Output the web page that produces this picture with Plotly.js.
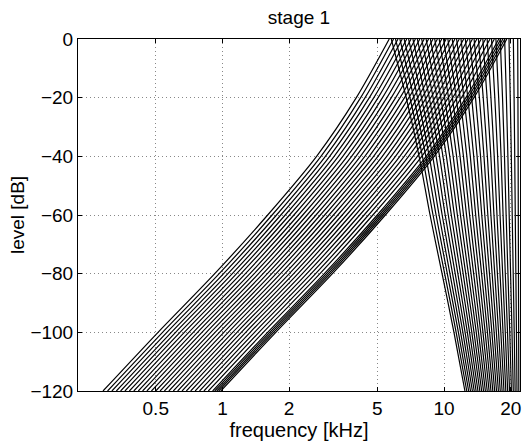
<!DOCTYPE html>
<html><head><meta charset="utf-8">
<script src="https://cdn.plot.ly/plotly-3.0.1.min.js"></script>
<style>html,body{margin:0;padding:0;background:#fff}</style>
</head><body><div id="chart" style="width:526px;height:441px"></div>
<script>
// Levels (dB) at which the curves were read
const riseLevels = [-120, -100, -80, -60, -40, -20, 0];
const fallLevels = [0, -20, -40, -60, -80, -100, -120];
// Lowest channel, rising (low-frequency) side, kHz at riseLevels
const riseFirstKHz = [0.289, 0.512, 0.923, 1.60, 2.66, 4.02, 5.66];
// Lowest channel, falling (high-frequency) side, kHz at fallLevels
const fallFirstKHz = [5.78, 6.75, 7.72, 8.65, 9.80, 11.09, 12.43];
// Per channel: rising side at -120 dB and at 0 dB (kHz)
const riseBottomKHz = [0.289,0.303,0.317,0.332,0.347,0.363,0.380,0.398,0.417,0.436,0.456,0.478,0.500,0.523,0.547,0.573,0.600,0.628,0.657,0.687,0.719,0.753,0.788,0.825,0.863,0.903,0.923,0.943,0.962,0.983];
const riseTopKHz = [5.66,5.92,6.20,6.48,6.79,7.10,7.43,7.78,8.14,8.52,8.92,9.34,9.77,10.23,10.70,11.20,11.72,12.27,12.84,13.44,14.07,14.72,15.41,16.13,16.88,17.67,18.05,18.43,18.81,19.21];
// Per channel: falling side at 0 dB and at -120 dB (kHz)
const fallTopKHz = [5.78,6.04,6.32,6.61,6.92,7.24,7.58,7.93,8.30,8.68,9.08,9.51,9.95,10.41,10.89,11.40,11.93,12.48,13.06,13.67,14.30,14.97,15.66,16.39,17.15,17.94,18.78,19.65,20.56,21.51];
const fallBottomKHz = [12.43,12.67,12.92,13.17,13.43,13.69,13.96,14.23,14.51,14.79,15.08,15.37,15.67,15.98,16.29,16.61,16.93,17.26,17.60,17.94,18.29,18.65,19.01,19.38,19.76,20.15,20.54,20.94,21.35,21.76];
const xTickVals = [0.5, 1, 2, 5, 10, 20];
const xTickText = ['0.5', '1', '2', '5', '10', '20'];
const yTickVals = [0, -20, -40, -60, -80, -100, -120];

const lg = Math.log10;
// shape of the sides, as a fraction of the log-distance between their ends
const rN = riseFirstKHz.length - 1, fN = fallFirstKHz.length - 1;
const riseFrac = riseFirstKHz.map(f => (lg(f) - lg(riseFirstKHz[0])) / (lg(riseFirstKHz[rN]) - lg(riseFirstKHz[0])));
const fallFrac = fallFirstKHz.map(f => (lg(f) - lg(fallFirstKHz[0])) / (lg(fallFirstKHz[fN]) - lg(fallFirstKHz[0])));

const traces = [];
const lineStyle = {color: '#000', width: 1.2, shape: 'spline', smoothing: 0.8};
for (let k = 0; k < riseBottomKHz.length; k++) {
  const a = lg(riseBottomKHz[k]), b = lg(riseTopKHz[k]);
  traces.push({type: 'scatter', mode: 'lines', hoverinfo: 'skip', showlegend: false,
    x: riseFrac.map(t => Math.pow(10, a + t * (b - a))), y: riseLevels, line: lineStyle});
  const c = lg(fallTopKHz[k]), d = lg(fallBottomKHz[k]);
  traces.push({type: 'scatter', mode: 'lines', hoverinfo: 'skip', showlegend: false,
    x: fallFrac.map(t => Math.pow(10, c + t * (d - c))), y: fallLevels, line: lineStyle});
}

const fam = 'Liberation Sans, Arial, Helvetica, sans-serif';
const tickFont = {family: fam, size: 19, color: '#000'};
const titleFont = {family: fam, size: 19, color: '#000'};
const axisCommon = {
  ticks: 'inside', ticklen: 4, tickcolor: '#000', showline: true, linecolor: '#000', linewidth: 1, mirror: 'ticks',
  showgrid: true, gridcolor: '#888', griddash: '1px,3px', gridwidth: 1, zeroline: false, tickfont: tickFont
};
const layout = {
  width: 526, height: 441,
  margin: {l: 78, r: 6, t: 39, b: 50},
  paper_bgcolor: '#fff', plot_bgcolor: '#fff',
  font: tickFont,
  showlegend: false,
  title: {text: 'stage 1', font: titleFont,
    x: 0.5, xref: 'paper', y: 1 - 17 / 441, yref: 'container', yanchor: 'middle'},
  xaxis: Object.assign({type: 'log', range: [-0.652, 1.343], tickvals: xTickVals, ticktext: xTickText,
    title: {text: 'frequency [kHz]', font: {family: fam, size: 20, color: '#000'}, standoff: 2}}, axisCommon),
  yaxis: Object.assign({range: [-120, 0], tickvals: yTickVals,
    title: {text: 'level [dB]', font: titleFont, standoff: 0}}, axisCommon)
};
Plotly.newPlot('chart', traces, layout, {staticPlot: true, displayModeBar: false});
</script></body></html>
